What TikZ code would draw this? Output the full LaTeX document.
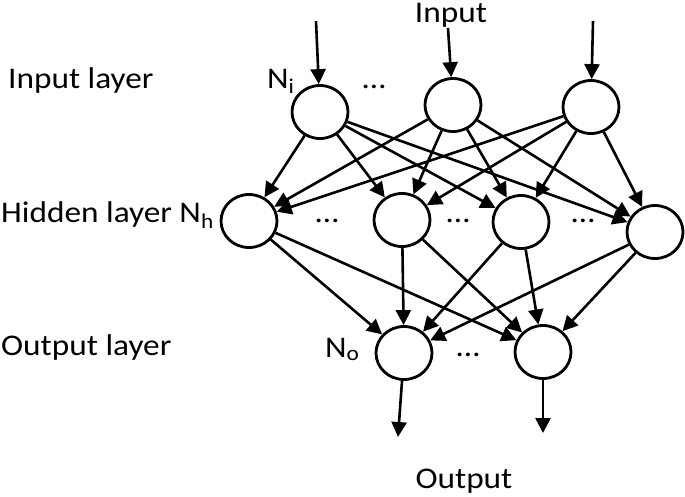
\documentclass[tikz,border=0pt]{standalone}
\usepackage{fontspec}
\setmainfont{Carlito}[FakeStretch=1.11]
\usetikzlibrary{arrows.meta,shapes.geometric,positioning}
\tikzset{/ann/neuron/.style={ellipse, draw, line width=2.8pt, minimum width=56pt, minimum height=53pt, inner sep=0pt
}}
\tikzset{/ann/link/.style={line width=2.6pt, -{Triangle[length=15pt,width=15pt]}
}}
\tikzset{/ann/label/.style={inner sep=0pt, node font=\fontsize{30}{36}\selectfont
}}

\begin{document}
\begin{tikzpicture}[x=1pt,y=-1pt]
		\useasboundingbox (0,0) rectangle (685,496);
		\node[/ann/neuron] (i1) at (320,112) {};
		\node[/ann/neuron] (i2) at (453,105) {};
		\node[/ann/neuron] (i3) at (591,107) {};
		\node[/ann/neuron] (h1) at (249,221) {};
		\node[/ann/neuron] (h2) at (402,220) {};
		\node[/ann/neuron] (h3) at (521,222) {};
		\node[/ann/neuron] (h4) at (655,232) {};
		\node[/ann/neuron] (o1) at (404,353) {};
		\node[/ann/neuron] (o2) at (543,352) {};
		\coordinate (in1) at (316,21);
		\coordinate (in2) at (448,28);
		\coordinate (in3) at (593,21);
		\coordinate (out1) at (398,437);
		\coordinate (out2) at (543,433);
		\draw[/ann/link] (in1) -- (i1);
		\draw[/ann/link] (in2) -- (i2);
		\draw[/ann/link] (in3) -- (i3);
		\foreach \a in {i1,i2,i3}
			\foreach \b in {h1,h2,h3,h4}
				\draw[/ann/link] (\a) -- (\b);
		\foreach \a in {h1,h2,h3,h4}
			\foreach \b in {o1,o2}
				\draw[/ann/link] (\a) -- (\b);
		\draw[/ann/link] (o1) -- (out1);
		\draw[/ann/link] (o2) -- (out2);
		\node[/ann/label, anchor=base] (input) at (451,22) {Input};
		\node[/ann/label, anchor=base] (output) at (464,488) {Output};
		\node[/ann/label, anchor=base west] (inlayer) at (8,88) {Input layer};
		\node[/ann/label, anchor=base west] (hidlayer) at (1,222) {Hidden layer N\textsubscript{h}};
		\node[/ann/label, anchor=base west] (outlayer) at (1,355) {Output layer};
		\node[/ann/label, anchor=base west] (ni) at (267,88) {N\textsubscript{i}};
		\node[/ann/label, anchor=base west] (no) at (325,357) {N\textsubscript{o}};
		\node[/ann/label, anchor=base] (dots1) at (374,88) {…};
		\node[/ann/label, anchor=base] (dots2) at (327,222) {…};
		\node[/ann/label, anchor=base] (dots3) at (458,222) {…};
		\node[/ann/label, anchor=base] (dots4) at (583,222) {…};
		\node[/ann/label, anchor=base] (dots5) at (468,356) {…};
	\end{tikzpicture}
\end{document}
